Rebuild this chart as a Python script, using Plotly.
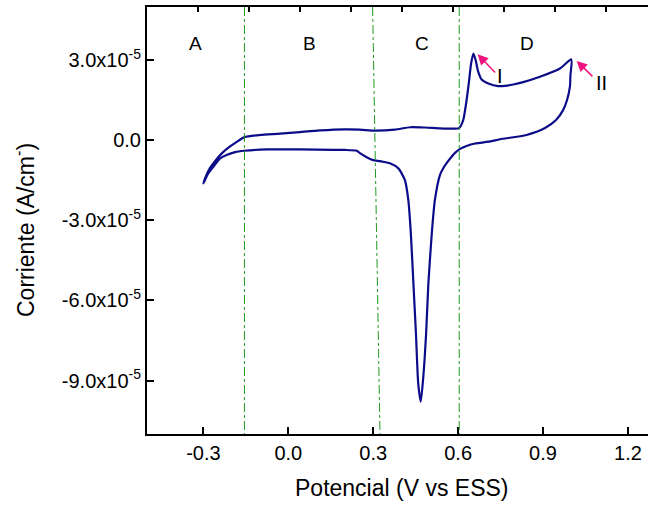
import plotly.graph_objects as go

# Cyclic voltammogram, current in units of 1e-5 A/cm2
fwd_E = [-0.300, -0.291, -0.277, -0.259, -0.234, -0.206, -0.178, -0.155, -0.100, -0.029,
         0.041, 0.112, 0.200, 0.253, 0.306, 0.377, 0.430, 0.483, 0.536, 0.589, 0.603,
         0.618, 0.630, 0.639, 0.646, 0.654, 0.662, 0.671, 0.683, 0.707, 0.742, 0.766,
         0.795, 0.830, 0.889, 0.960, 1.000]
fwd_I = [-1.62, -1.35, -1.05, -0.79, -0.49, -0.24, -0.04, 0.11, 0.19, 0.24,
         0.30, 0.36, 0.40, 0.39, 0.35, 0.39, 0.48, 0.47, 0.44, 0.43, 0.45,
         0.75, 1.50, 2.24, 2.87, 3.24, 2.99, 2.56, 2.27, 2.12, 2.02, 2.03,
         2.08, 2.17, 2.37, 2.68, 3.02]
rev_E = [1.000, 0.997, 0.995, 0.985, 0.971, 0.946, 0.907, 0.842, 0.748, 0.713, 0.660,
         0.630, 0.607, 0.590, 0.575, 0.560, 0.546, 0.536, 0.518, 0.507, 0.495, 0.487,
         0.477, 0.468, 0.459, 0.451, 0.442, 0.433, 0.424, 0.412, 0.389, 0.359, 0.324,
         0.300, 0.277, 0.253, 0.242, 0.200, 0.159, 0.041, -0.076, -0.155, -0.188,
         -0.218, -0.241, -0.265, -0.284, -0.300]
rev_I = [3.02, 2.43, 1.99, 1.50, 1.12, 0.75, 0.45, 0.19, 0.03, -0.05, -0.13,
         -0.22, -0.33, -0.47, -0.65, -0.85, -1.08, -1.30, -2.24, -3.49, -5.36, -7.23,
         -8.86, -9.79, -9.10, -7.23, -5.36, -3.49, -2.24, -1.50, -1.06, -0.87, -0.79,
         -0.75, -0.64, -0.49, -0.40, -0.37, -0.37, -0.35, -0.35, -0.40, -0.45,
         -0.56, -0.69, -1.00, -1.27, -1.62]

x_ticks = [-0.3, 0.0, 0.3, 0.6, 0.9, 1.2]
x_ticklabels = ["-0.3", "0.0", "0.3", "0.6", "0.9", "1.2"]
y_ticks = [3.0, 0.0, -3.0, -6.0, -9.0]
y_ticklabels = ["3.0x10<sup>-5</sup>", "0.0", "-3.0x10<sup>-5</sup>",
                "-6.0x10<sup>-5</sup>", "-9.0x10<sup>-5</sup>"]
top_ticks = [-0.318 + 0.18 * k for k in range(9)]

region_labels = ["A", "B", "C", "D"]
region_x = [-0.327, 0.076, 0.472, 0.843]
boundaries = [(-0.155, -0.155), (0.298, 0.324), (0.604, 0.604)]  # (top, bottom)

FONT = "Liberation Sans, Arial, sans-serif"
NAVY = "#0c0c8a"
PINK = "#f0127f"

E = fwd_E + rev_E[1:]
I = fwd_I + rev_I[1:]

fig = go.Figure()
fig.add_trace(go.Scatter(x=E, y=I, mode="lines", line=dict(color=NAVY, width=2.2),
                         line_shape="spline", line_smoothing=0.6,
                         showlegend=False, hoverinfo="skip"))
# dummy trace for top axis
fig.add_trace(go.Scatter(x=[None], y=[None], xaxis="x2", showlegend=False))

for top, bot in boundaries:
    fig.add_shape(type="line", xref="x", yref="paper", x0=top, y0=1, x1=bot, y1=0,
                  line=dict(color="#1f9a1f", width=1, dash="dashdot"))

annotations = []
for lab, xv in zip(region_labels, region_x):
    annotations.append(dict(x=xv, y=3.62, xref="x", yref="y", text=lab, showarrow=False,
                            font=dict(family=FONT, size=19, color="black")))
# arrows
annotations.append(dict(x=0.669, y=3.21, ax=0.736, ay=2.47, xref="x", yref="y",
                        axref="x", ayref="y", text="", showarrow=True, arrowhead=2,
                        arrowsize=1.4, arrowwidth=1.5, arrowcolor=PINK))
annotations.append(dict(x=1.019, y=2.96, ax=1.080, ay=2.33, xref="x", yref="y",
                        axref="x", ayref="y", text="", showarrow=True, arrowhead=2,
                        arrowsize=1.4, arrowwidth=1.5, arrowcolor=PINK))
annotations.append(dict(x=0.748, y=2.40, xref="x", yref="y", text="I", showarrow=False,
                        font=dict(family=FONT, size=20, color="black")))
annotations.append(dict(x=1.105, y=2.15, xref="x", yref="y", text="II", showarrow=False,
                        font=dict(family=FONT, size=20, color="black")))
# axis titles (positions given in pixels, converted below)
annotations.append(dict(x=401, y=488, xref="paper", yref="paper", text="Potencial (V vs ESS)",
                        showarrow=False, xanchor="center", yanchor="middle",
                        font=dict(family=FONT, size=23, color="black")))
annotations.append(dict(x=24, y=230, xref="paper", yref="paper",
                        text="Corriente (A/cm<sup>-</sup>)", textangle=-90,
                        showarrow=False, xanchor="center", yanchor="middle",
                        font=dict(family=FONT, size=23, color="black")))

W, H = 648, 506
L, T, B, R = 147, 7, 72, 0
pw, ph = W - L - R, H - T - B
for a in annotations[-2:]:
    px, py = a["x"], a["y"]
    a["x"] = (px - L) / pw
    a["y"] = (H - B - py) / ph

fig.update_layout(
    width=W, height=H,
    margin=dict(l=L, r=R, t=T, b=B, pad=0),
    paper_bgcolor="white", plot_bgcolor="white",
    font=dict(family=FONT, size=20, color="black"),
    annotations=annotations,
    xaxis=dict(range=[-0.4993, 1.271], tickvals=x_ticks, ticktext=x_ticklabels,
               ticks="inside", ticklen=7, tickwidth=2, tickcolor="black",
               showline=True, linecolor="black", linewidth=2, showgrid=False,
               zeroline=False, tickfont=dict(size=20, family=FONT)),
    xaxis2=dict(range=[-0.4993, 1.271], overlaying="x", side="top", tickvals=top_ticks,
                showticklabels=False, ticks="inside", ticklen=5, tickwidth=1.5,
                tickcolor="black", showline=True, linecolor="black", linewidth=2,
                showgrid=False, zeroline=False),
    yaxis=dict(range=[-11.0, 4.98], tickvals=y_ticks, ticktext=y_ticklabels,
               ticks="inside", ticklen=7, tickwidth=2, tickcolor="black",
               showline=True, linecolor="black", linewidth=2, showgrid=False,
               zeroline=False, tickfont=dict(size=20, family=FONT)),
)

fig.write_html("out.html")
